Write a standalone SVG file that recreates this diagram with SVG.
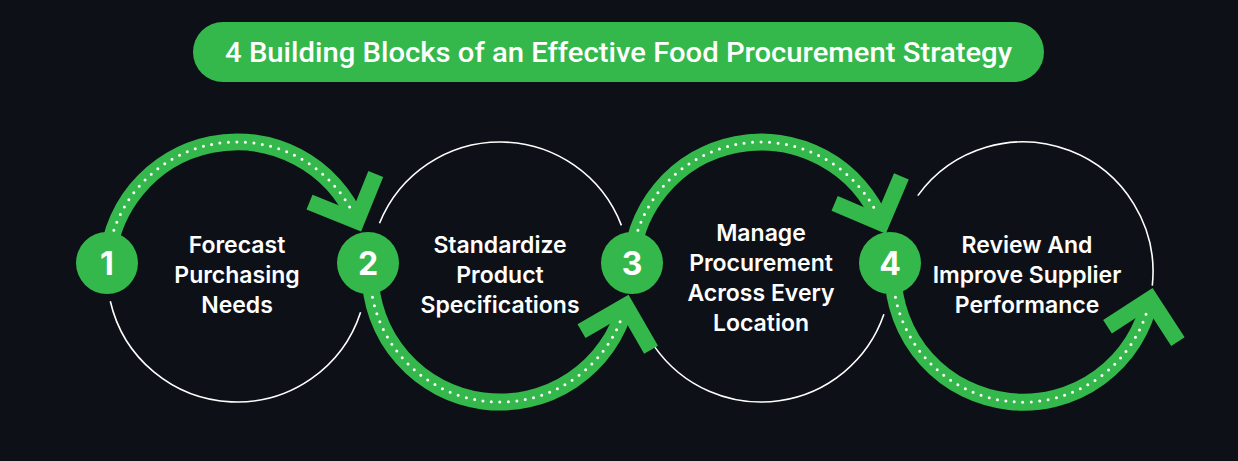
<svg xmlns="http://www.w3.org/2000/svg" width="1238" height="461" viewBox="0 0 1238 461">
<style>
.ring{fill:none;stroke:#ffffff;stroke-width:1.6}
.band{fill:none;stroke:#35b84b;stroke-width:17}
.dots{fill:none;stroke:#ffffff;stroke-width:3;stroke-linecap:round;stroke-dasharray:0 8.5}
.chev{fill:none;stroke:#35b84b;stroke-width:16;stroke-linejoin:miter;stroke-miterlimit:10}
.badge{fill:#35b84b}
.num{font-family:Inter,"Open Sans",sans-serif;font-weight:700;font-size:32px;fill:#ffffff;text-anchor:middle}
.lbl{font-family:Inter,"Open Sans",sans-serif;font-weight:600;font-size:23px;fill:#ffffff;text-anchor:middle}
.title{font-family:Roboto,"Liberation Sans",sans-serif;font-weight:500;font-size:27px;fill:#ffffff;text-anchor:middle}
</style>
<defs>
<polyline id="chev" class="chev" points="-36,-36 0,0 -36,36"/>
</defs>
<rect width="1238" height="461" fill="#0d1117"/>
<g id="title">
<rect x="193" y="22" width="851" height="60" rx="30" fill="#35b84b"/>
<text class="title" x="618.5" y="62" textLength="787" lengthAdjust="spacingAndGlyphs">4 Building Blocks of an Effective Food Procurement Strategy</text>
</g>
<g id="rings">
<path class="ring" d="M110.3 301.2 A130 130 0 0 0 360.6 312.2"/>
<path class="ring" d="M379.5 223.3 A130 130 0 0 1 621.4 225.4"/>
<path class="ring" d="M654.5 346.6 A130 130 0 0 0 883.9 314.3"/>
<path class="ring" d="M917.8 195.6 A130 130 0 0 1 1152.3 285.6"/>
</g>
<g id="connectors">
<path class="band" d="M107 272 A130 130 0 0 1 356.7 221.2"/>
<path class="dots" d="M107 272 A130 130 0 0 1 356.7 221.2"/>
<use href="#chev" transform="translate(356.7,221.2) rotate(67)"/>
<path class="band" d="M370 272 A130 130 0 0 0 625.6 305.6"/>
<path class="dots" d="M370 272 A130 130 0 0 0 625.6 305.6"/>
<use href="#chev" transform="translate(625.6,305.6) rotate(-75)"/>
<path class="band" d="M631 272 A130 130 0 0 1 881.5 223.3"/>
<path class="dots" d="M631 272 A130 130 0 0 1 881.5 223.3"/>
<use href="#chev" transform="translate(881.5,223.3) rotate(68)"/>
<path class="band" d="M893 272 A130 130 0 0 0 1150.2 299"/>
<path class="dots" d="M893 272 A130 130 0 0 0 1150.2 299"/>
<use href="#chev" transform="translate(1150.2,299) rotate(-78)"/>
</g>
<g id="node1">
<circle class="badge" cx="107" cy="263" r="31"/>
<text class="num" x="107" y="275">1</text>
<text class="lbl" x="237" y="253">Forecast</text>
<text class="lbl" x="237" y="283">Purchasing</text>
<text class="lbl" x="237" y="313">Needs</text>
</g>
<g id="node2">
<circle class="badge" cx="368" cy="263" r="31"/>
<text class="num" x="368" y="275">2</text>
<text class="lbl" x="500" y="253">Standardize</text>
<text class="lbl" x="500" y="283">Product</text>
<text class="lbl" x="500" y="313">Specifications</text>
</g>
<g id="node3">
<circle class="badge" cx="632" cy="263" r="31"/>
<text class="num" x="632" y="275">3</text>
<text class="lbl" x="761" y="241">Manage</text>
<text class="lbl" x="761" y="271">Procurement</text>
<text class="lbl" x="761" y="301">Across Every</text>
<text class="lbl" x="761" y="331">Location</text>
</g>
<g id="node4">
<circle class="badge" cx="890" cy="263" r="31"/>
<text class="num" x="890" y="275">4</text>
<text class="lbl" x="1027" y="253">Review And</text>
<text class="lbl" x="1027" y="283">Improve Supplier</text>
<text class="lbl" x="1027" y="313">Performance</text>
</g>
</svg>
